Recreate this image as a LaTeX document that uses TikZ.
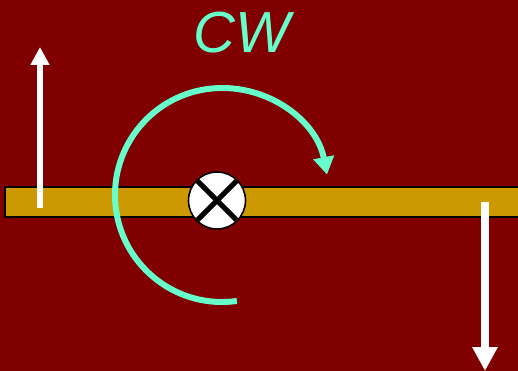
\documentclass[tikz,border=0pt]{standalone}
\usepackage{fontspec}
\setmainfont{Liberation Sans}
\usetikzlibrary{arrows.meta,calc}

\definecolor{bgred}{HTML}{800000}
\definecolor{rodgold}{HTML}{CC9900}
\definecolor{spin}{HTML}{66FFCC}

\tikzset{
    force/.style={white, -{Triangle[length=#1, width=#1]}},
    turn/.style={spin, line width=3.4pt, -{Triangle[length=10pt, width=11.5pt]}}
}

\begin{document}
\begin{tikzpicture}[x=0.02cm, y=0.02cm]
    \fill[bgred] (0,0) rectangle (518,-371);
    \useasboundingbox (0,0) rectangle (518,-371);

    % Stab
    \draw[fill=rodgold, line width=0.6pt] (5,-187) rectangle (540,-217);

    % Drehachse
    \node[circle, draw, fill=white, line width=0.9pt, minimum size=1.14cm, inner sep=0pt] (P) at (217,-200.5) {};
    \draw[line width=3pt] ($(P)+(-19.5,19.5)$) -- ($(P)+(19.5,-19.5)$);
    \draw[line width=3pt] ($(P)+(19.5,19.5)$) -- ($(P)+(-19.5,-19.5)$);

    % Drehsinn
    \coordinate (O) at (222,-195);
    \draw[turn] (O) ++(278:107) arc[start angle=278, end angle=11, radius=107];
    \node[text=spin, font=\itshape\fontsize{33}{36}\selectfont] (cw) at (242,-33) {CW};

    % Kraefte
    \coordinate (F1a) at (40,-208);
    \coordinate (F1b) at (40,-47);
    \coordinate (F2a) at (485,-202);
    \coordinate (F2b) at (485,-371);
    \draw[force=10.2pt, line width=3.4pt] (F1a) -- (F1b);
    \draw[force=13.6pt, line width=4.5pt] (F2a) -- (F2b);
\end{tikzpicture}
\end{document}
